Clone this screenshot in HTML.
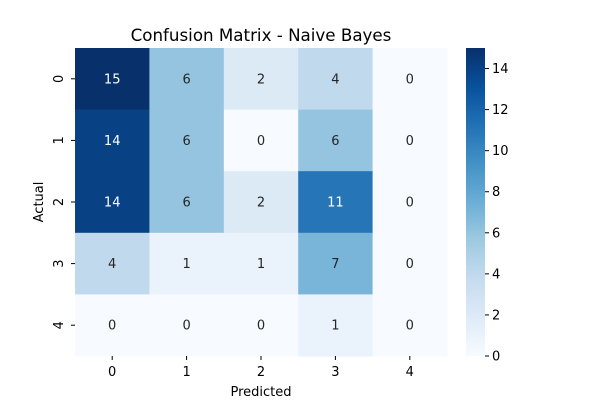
<!DOCTYPE html>
<html><head><meta charset="utf-8"><style>
body{margin:0;background:#fff;}
svg text{font-family:"DejaVu Sans","Liberation Sans",sans-serif;}
</style></head><body>
<svg id="chart" width="600" height="400" xmlns="http://www.w3.org/2000/svg">
<defs>
<linearGradient id="cbg" x1="0" y1="1" x2="0" y2="0">
<stop offset="0" stop-color="#f7fbff"/><stop offset="0.125" stop-color="#deebf7"/>
<stop offset="0.25" stop-color="#c6dbef"/><stop offset="0.375" stop-color="#9ecae1"/>
<stop offset="0.5" stop-color="#6baed6"/><stop offset="0.625" stop-color="#4292c6"/>
<stop offset="0.75" stop-color="#2171b5"/><stop offset="0.875" stop-color="#08519c"/>
<stop offset="1" stop-color="#08306b"/>
</linearGradient>
</defs>
<text x="261" y="41" font-size="16.7" text-anchor="middle">Confusion Matrix - Naive Bayes</text>
<g id="cells"></g>
<g id="axes"></g>
<rect x="466" y="48" width="19" height="308" fill="url(#cbg)"/>
<g id="cbticks"></g>
<text x="261" y="396" font-size="13" text-anchor="middle">Predicted</text>
<text transform="translate(43,202) rotate(-90)" font-size="13" text-anchor="middle">Actual</text>
</svg>
<script>
const xLabels=["0","1","2","3","4"];
const yLabels=["0","1","2","3","4"];
const row0=[15,6,2,4,0];
const row1=[14,6,0,6,0];
const row2=[14,6,2,11,0];
const row3=[4,1,1,7,0];
const row4=[0,0,0,1,0];
const matrix=[row0,row1,row2,row3,row4];
const cbTicks=[0,2,4,6,8,10,12,14];
const vmin=0,vmax=15;
const L=75,T=48,W=372,H=308;
const stops=["#f7fbff","#deebf7","#c6dbef","#9ecae1","#6baed6","#4292c6","#2171b5","#08519c","#08306b"].map(h=>[parseInt(h.slice(1,3),16),parseInt(h.slice(3,5),16),parseInt(h.slice(5,7),16)]);
function cmap(v){let t=(v-vmin)/(vmax-vmin)*8;let i=Math.min(7,Math.floor(t));let f=t-i;const a=stops[i],b=stops[i+1];return a.map((c,k)=>Math.round(c+(b[k]-c)*f));}
const cw=W/xLabels.length,ch=H/yLabels.length;
const NS="http://www.w3.org/2000/svg";
const cells=document.getElementById('cells'),axes=document.getElementById('axes'),cb=document.getElementById('cbticks');
function mk(tag,attrs,p){const e=document.createElementNS(NS,tag);for(const k in attrs)e.setAttribute(k,attrs[k]);p.appendChild(e);return e;}
matrix.forEach((row,r)=>row.forEach((v,c)=>{
const col=cmap(v);
const rc=mk('rect',{x:L+c*cw,y:T+r*ch,width:cw+0.5,height:ch+0.5,fill:`rgb(${col})`},cells);


const lum=(0.299*col[0]+0.587*col[1]+0.114*col[2])/255;
const t=mk('text',{x:L+(c+0.5)*cw,y:T+(r+0.5)*ch+4.5,'font-size':13,'text-anchor':'middle',fill:lum<0.5?'#fff':'#262626'},cells);
t.textContent=v;


}));
xLabels.forEach((l,i)=>{const x=L+(i+0.5)*cw;
mk('line',{x1:x,x2:x,y1:T+H,y2:T+H+4,stroke:'#000'},axes);
const t=mk('text',{x:x,y:T+H+20,'font-size':13,'text-anchor':'middle'},axes);t.textContent=l;

});
yLabels.forEach((l,i)=>{const y=T+(i+0.5)*ch;
mk('line',{x1:L-4,x2:L,y1:y,y2:y,stroke:'#000'},axes);
const t=mk('text',{transform:`translate(63,${y}) rotate(-90)`,'font-size':13,'text-anchor':'middle'},axes);t.textContent=l;

});
cbTicks.forEach(v=>{const y=356-(v-vmin)/(vmax-vmin)*308;
mk('line',{x1:485,x2:489,y1:y,y2:y,stroke:'#000'},cb);
const t=mk('text',{x:492,y:y+4.5,'font-size':13},cb);t.textContent=v;

});
</script>
</body></html>
